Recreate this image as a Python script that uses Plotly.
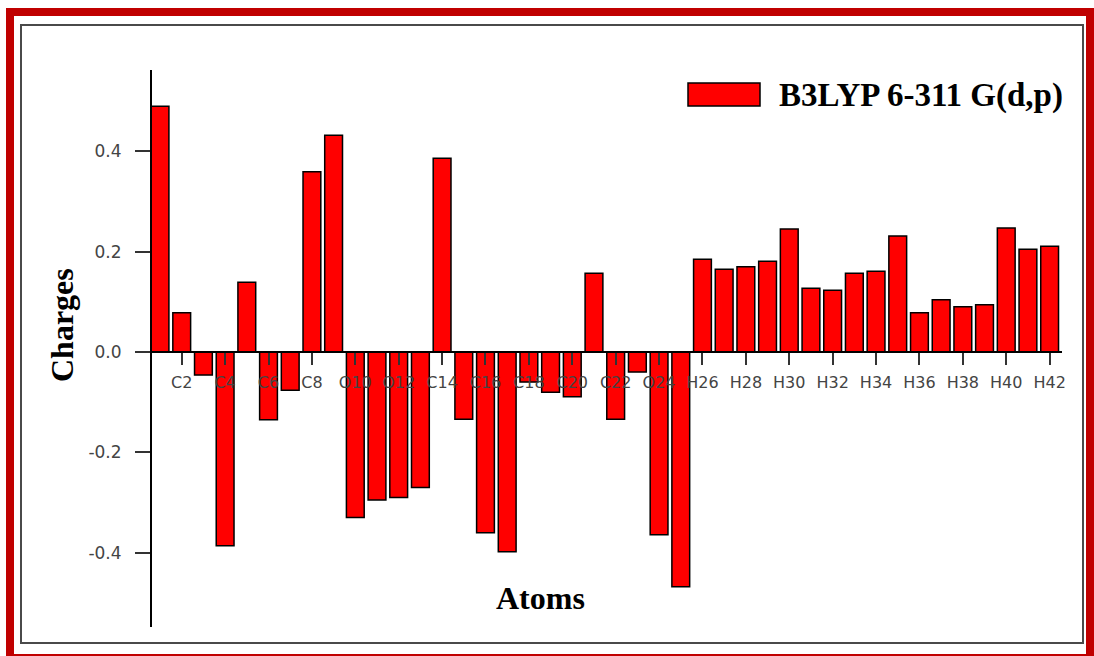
import plotly.graph_objects as go

# ---- data ----
atom_index = list(range(1, 43))
charges = [
    0.490, 0.078, -0.046, -0.386, 0.139, -0.135, -0.076, 0.359, 0.432, -0.330,
    -0.295, -0.290, -0.270, 0.386, -0.134, -0.360, -0.398, -0.060, -0.080, -0.089,
    0.157, -0.134, -0.040, -0.364, -0.468, 0.185, 0.165, 0.170, 0.181, 0.245,
    0.127, 0.123, 0.157, 0.161, 0.231, 0.078, 0.104, 0.090, 0.094, 0.247,
    0.205, 0.211,
]
tick_positions = list(range(2, 43, 2))
tick_labels = ["C2", "C4", "C6", "C8", "O10", "O12", "C14", "C16", "C18", "C20",
               "C22", "O24", "H26", "H28", "H30", "H32", "H34", "H36", "H38",
               "H40", "H42"]
y_ticks = [-0.4, -0.2, 0.0, 0.2, 0.4]
y_tick_text = ["-0.4", "-0.2", "0.0", "0.2", "0.4"]
series_name = "B3LYP 6-311 G(d,p)"

W, H = 1094, 656
L, R, T, B = 152, 32, 70, 29
PW, PH = W - L - R, H - T - B
YMIN, YMAX = -0.548, 0.562


def px(x):
    return (x - L) / PW


def py(y):
    return (H - B - y) / PH


fig = go.Figure()
fig.add_trace(go.Bar(
    x=atom_index, y=charges, name=series_name, width=0.82,
    marker=dict(color="#FF0000", line=dict(color="#000000", width=1.5)),
    showlegend=False,
))

serif = "Liberation Serif, Times New Roman, serif"
shapes = [
    # outer red border
    dict(type="rect", xref="paper", yref="paper",
         x0=px(10), x1=px(1090), y0=py(658), y1=py(12),
         line=dict(color="#C00000", width=8), fillcolor="rgba(0,0,0,0)", layer="above"),
    # inner gray frame
    dict(type="rect", xref="paper", yref="paper",
         x0=px(21), x1=px(1083), y0=py(643), y1=py(25),
         line=dict(color="#4a4a4a", width=2), fillcolor="rgba(0,0,0,0)", layer="above"),
    # legend swatch
    dict(type="rect", xref="paper", yref="paper",
         x0=px(688), x1=px(760), y0=py(106), y1=py(83),
         line=dict(color="#000000", width=1.5), fillcolor="#FF0000", layer="above"),
]

annotations = [
    dict(text="<b>" + series_name + "</b>", xref="paper", yref="paper",
         x=px(777), y=py(95), xanchor="left", yanchor="middle", showarrow=False,
         font=dict(family=serif, size=33, color="#000000")),
    dict(text="<b>Charges</b>", xref="paper", yref="paper",
         x=px(62), y=py(325), xanchor="center", yanchor="middle", showarrow=False,
         textangle=-90, font=dict(family=serif, size=32, color="#000000")),
    dict(text="<b>Atoms</b>", xref="paper", yref="paper",
         x=px(540), y=py(598), xanchor="center", yanchor="middle", showarrow=False,
         font=dict(family=serif, size=32, color="#000000")),
]

zero_pos = (0 - YMIN) / (YMAX - YMIN)

fig.update_layout(
    width=W, height=H,
    margin=dict(l=L, r=R, t=T, b=B, autoexpand=False),
    paper_bgcolor="#FFFFFF", plot_bgcolor="#FFFFFF",
    shapes=shapes, annotations=annotations,
    xaxis=dict(
        range=[0.63, 42.57], anchor="free", position=zero_pos,
        showline=True, linecolor="#000000", linewidth=2,
        ticks="outside", ticklen=12, tickwidth=2, tickcolor="#333333",
        tickvals=tick_positions, ticktext=tick_labels,
        tickfont=dict(family="DejaVu Sans, Verdana, sans-serif", size=16, color="#444444"),
        ticklabelstandoff=4,
        showgrid=False, zeroline=False,
    ),
    yaxis=dict(
        range=[YMIN, YMAX], domain=[0, 1],
        showline=True, linecolor="#000000", linewidth=2,
        ticks="outside", ticklen=15, tickwidth=2, tickcolor="#333333",
        tickvals=y_ticks, ticktext=y_tick_text,
        tickfont=dict(family="DejaVu Sans, Verdana, sans-serif", size=17, color="#444444"),
        ticklabelstandoff=10,
        showgrid=False, zeroline=False,
    ),
)

fig.write_html("out.html", config={"displayModeBar": False},
               post_script="document.body.style.margin='0px';")
